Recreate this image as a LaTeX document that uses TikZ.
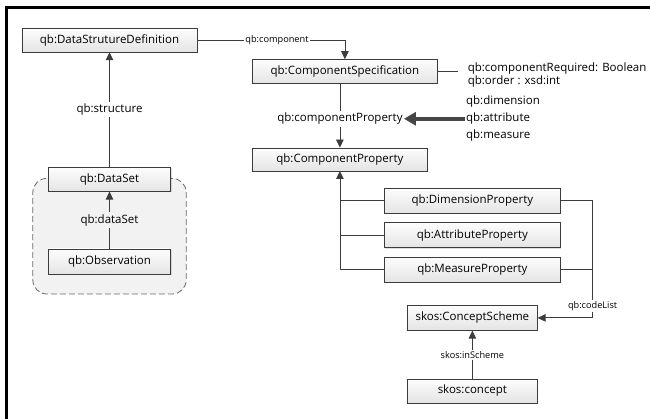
\documentclass[tikz,border=0pt]{standalone}
\usepackage{fontspec}
\setmainfont{Open Sans}
\usetikzlibrary{arrows.meta,fit,calc,positioning,shadows}
\definecolor{lineColor}{RGB}{60,60,60}
\definecolor{arrowColor}{RGB}{70,70,70}
\definecolor{entityTop}{RGB}{253,253,253}
\definecolor{entityBottom}{RGB}{228,228,228}
\definecolor{groupColor}{RGB}{242,242,242}
\definecolor{groupLine}{RGB}{105,105,105}
\tikzset{entity/.style={draw=lineColor, top color=entityTop, bottom color=entityBottom, minimum height=24pt, inner sep=0pt, font=\fontsize{11.5}{13}\selectfont, drop shadow={shadow xshift=1pt, shadow yshift=-1pt, opacity=0.25}}}
\tikzset{dataGroup/.style={draw=groupLine, fill=groupColor, line width=0.8pt, dash pattern=on 6pt off 3pt, rounded corners=14pt}}
\tikzset{rel/.style={draw=lineColor, line width=0.8pt, -{Triangle[length=8pt,width=7.5pt]}}}
\tikzset{relLine/.style={draw=lineColor, line width=0.8pt}}
\tikzset{relName/.style={fill=white, inner sep=2pt, font=\fontsize{11.5}{13}\selectfont}}
\tikzset{relLabel/.style={fill=white, inner sep=1.5pt, font=\fontsize{9.2}{11}\selectfont}}

\begin{document}
\begin{tikzpicture}[x=1pt, y=-1pt, node distance=9pt]
\pgfdeclarelayer{background}
\pgfsetlayers{background,main}
\useasboundingbox (0,0) rectangle (650,419);

% Frame
\draw[line width=3pt] (6.5,419) -- (6.5,7.5) -- (650,7.5);

% Nodes
\node (dsd) [entity, minimum width=175pt] at (109.5,40) {qb:DataStrutureDefinition};
\node (spec) [entity, minimum width=185pt, below right=7pt and 55pt of dsd.south east] {qb:ComponentSpecification};
\node (prop) [entity, minimum width=175pt, minimum height=23pt, below=64pt of spec.south west, anchor=north west] {qb:ComponentProperty};
\node (dim) [entity, minimum width=176pt, minimum height=25pt, below right=17pt and 132pt of prop.south west] {qb:DimensionProperty};
\node (attr) [entity, minimum width=176pt, minimum height=25pt, below=of dim] {qb:AttributeProperty};
\node (meas) [entity, minimum width=176pt, minimum height=25pt, below=of attr] {qb:MeasureProperty};
\node (scheme) [entity, minimum width=130pt, minimum height=25pt, below=23pt of meas] {skos:ConceptScheme};
\node (concept) [entity, minimum width=130pt, below=48pt of scheme] {skos:concept};
\node (ds) [entity, minimum width=122pt, below=115pt of dsd] {qb:DataSet};
\node (obs) [entity, minimum width=122pt, minimum height=25pt, below=57pt of ds] {qb:Observation};

\node (reqs) [right=20pt of spec, yshift=-4pt, inner xsep=10pt, inner ysep=0pt, align=left, font=\fontsize{11.5}{13}\selectfont] {qb:componentRequired: Boolean\\qb:order : xsd:int};

\begin{pgfonlayer}{background}
\node[dataGroup, inner xsep=15.5pt, inner ysep=10.5pt, yshift=-9.5pt, fit=(ds.center) (obs)] (dsGroup) {};
\end{pgfonlayer}

% Connectors
\draw [rel] (dsd) -| node[relLabel, pos=0.27] {qb:component} (spec);
\draw [relLine] (spec.east) -- (spec.east -| reqs.west);
\draw [rel] (spec.south -| prop.north) -- node[relName, pos=0.55, inner xsep=1pt] (cpLabel) {qb:componentProperty} (prop.north);

\node (quals) [right=61pt of cpLabel, inner sep=1pt, align=left, font=\fontsize{11.5}{16.8}\selectfont] {qb:dimension\\qb:attribute\\qb:measure};
\draw [draw=arrowColor, line width=3.5pt, -{Triangle[length=12pt,width=13pt]}] (quals.west) -- (cpLabel.east);

\draw [relLine] (dim.west) -- (dim.west -| prop.south);
\draw [relLine] (attr.west) -- (attr.west -| prop.south);
\draw [rel] (meas.west) -| (prop.south);

\coordinate [right=32pt of dim.east] (codeTop);
\draw [relLine] (meas.east) -- (meas.east -| codeTop);
\draw [rel] (dim.east) -- (codeTop) |- node[relLabel, pos=0.45] {qb:codeList} (scheme.east);
\draw [rel] (concept) -- node[relLabel] {skos:inScheme} (scheme);

\draw [rel] (ds) -- node[relName] {qb:structure} (dsd);
\draw [rel] (obs) -- node[relName, fill=groupColor] {qb:dataSet} (ds);

\end{tikzpicture}
\end{document}
